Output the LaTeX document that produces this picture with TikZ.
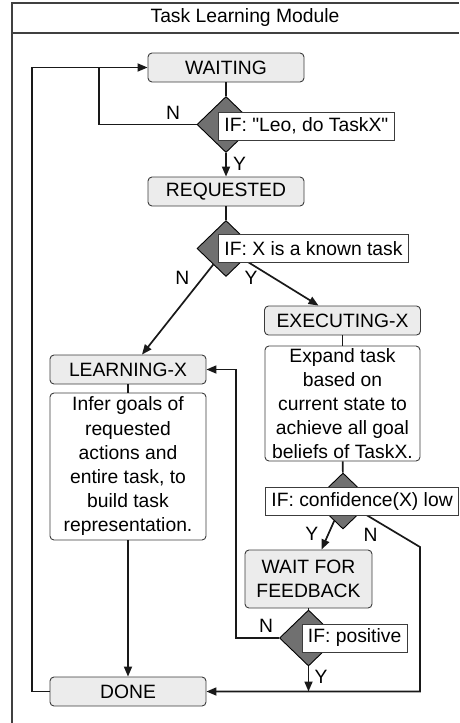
\documentclass[tikz,border=0pt]{standalone}
\usepackage{fontspec}
\setmainfont{Liberation Sans}[Ligatures=TeXOff]
\usetikzlibrary{shapes.geometric, positioning, arrows.meta}
\definecolor{boxfill}{RGB}{236,236,236}
\definecolor{decfill}{RGB}{112,112,112}
\definecolor{boxline}{RGB}{60,60,60}
\tikzset{x=1pt, y=1pt,
node distance=57pt, % centre to centre, changed per node below
every node/.style={font=\fontsize{19.3}{24.2}\selectfont},
statebox/.style={ % the grey states
draw=boxline, line width=0.9pt, fill=boxfill, rounded corners=4pt,
minimum width=156pt, minimum height=29pt, inner sep=2pt},
notebox/.style={ % white boxes with a description
draw=boxline, line width=0.9pt, fill=white, rounded corners=4pt,
minimum width=156pt, align=center, inner sep=2pt},
decision/.style={diamond, draw=black, line width=0.9pt, fill=decfill,
minimum width=58pt, minimum height=56pt, inner sep=0pt},
iflabel/.style={draw=boxline, line width=0.9pt, fill=white, anchor=west,
minimum height=28pt, inner xsep=6pt, inner ysep=2pt},
flow/.style={draw=black!90, line width=1.7pt,
>={Triangle[length=10pt,width=8pt]}},
frame/.style={draw=black!75, line width=1.1pt}}

\begin{document}
\begin{tikzpicture}
    \useasboundingbox (0,0) rectangle (459,-723);

    % module frame and title
    \draw[frame] (12,-730) -- (12,-3) -- (459,-3);
    \draw[frame] (12,-33) -- (459,-33);
    \node (title) at (245,-18) {Task Learning Module};

    \node[statebox] (waiting) at (226,-67.5) {WAITING};
    \node[decision, below of=waiting] (ifleo) {};
    \node[statebox, below of=ifleo, node distance=67pt] (requested) {REQUESTED};
    \node[decision, below of=requested] (ifknown) {};
    \node[statebox] (executing) at (342.5,-320.5) {EXECUTING-X};
    \node[notebox, minimum width=155pt, minimum height=115pt, below of=executing, node distance=83pt] (expand)
        {Expand task\\based on\\current state to\\achieve all goal\\beliefs of TaskX.};
    \node[statebox] (learning) at (128,-369.5) {LEARNING-X};
    \node[notebox, minimum height=147pt, below of=learning, node distance=97pt] (infer)
        {Infer goals of\\requested\\actions and\\entire task, to\\build task\\representation.};
    \node[statebox] (done) at (128,-691.5) {DONE};
    \node[decision] (ifconf) at (343,-501) {};
    \node[statebox, minimum width=127pt, minimum height=58pt, align=center] (wait) at (308.5,-579)
        {WAIT FOR\\FEEDBACK};
    \node[decision, below of=wait, node distance=59pt] (ifpos) {};

    \coordinate (nloop) at (99,-67.5);
    \coordinate (outer) at (32,-67.5);
    \coordinate (nturn) at (420,-547);
    \coordinate (nback) at (236,-369.5);

    \draw[flow] (waiting) -- (ifleo);
    \draw[flow,->] (ifleo) -- (requested) node[pos=0.45, right=3pt] {Y};
    \draw[flow,->] (ifleo.west) -| (nloop) node[pos=0.12, above=1pt] {N} -- (waiting.west);
    \draw[flow] (done.west) -| (outer) -- (nloop);
    \draw[flow] (requested) -- (ifknown);
    \draw[flow,->] (ifknown) -- ([xshift=14pt]learning.north) node[pos=0.15, left=9pt] {N};
    \draw[flow,->] (ifknown) -- ([xshift=-24pt]executing.north) node[pos=0.4, left=12pt] {Y};
    \draw[flow] (executing) -- (expand);
    \draw[flow] (learning) -- (infer);
    \draw[flow,->] (infer) -- (done);
    \draw[flow] (expand) -- (ifconf);
    \draw[flow,->] (ifconf) -- ([xshift=13pt]wait.north) node[pos=0.45, left=6pt] {Y};
    \draw[flow,->] (ifconf) -- (nturn) node[pos=0.35, below left=0pt] {N} |- (done.east);
    \draw[flow] (wait) -- (ifpos);
    \draw[flow,->] (ifpos.west) -| (nback) node[pos=0.15, above=1pt] {N} -- (learning.east);
    \draw[flow,->] (ifpos) -- (ifpos |- done.east) node[pos=0.4, right=2pt] {Y};

    % condition texts over the diamonds
    \node[iflabel, yshift=-1.5pt, xshift=-8pt] (leolabel) at (ifleo) {IF: "Leo, do TaskX"};
    \node[iflabel, xshift=-8pt] (knownlabel) at (ifknown) {IF: X is a known task};
    \node[iflabel, xshift=-78pt] (conflabel) at (ifconf) {IF: confidence(X) low};
    \node[iflabel, xshift=-7pt] (poslabel) at (ifpos) {IF: positive};

\end{tikzpicture}
\end{document}
